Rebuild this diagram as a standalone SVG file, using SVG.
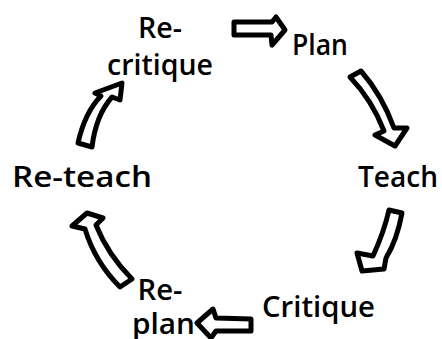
<svg xmlns="http://www.w3.org/2000/svg" width="442" height="339" viewBox="0 0 442 339">
<style>
text{font-family:"Open Sans","Liberation Sans",sans-serif;font-weight:600;font-size:28px;fill:#000}
.arr{fill:#fff;stroke:#000;stroke-width:5;stroke-linejoin:round}
</style>
<rect width="442" height="339" fill="#fff"/>
<g id="recritique"><text x="160" y="38" text-anchor="middle" textLength="44" lengthAdjust="spacingAndGlyphs">Re-</text><text x="160" y="75" text-anchor="middle" textLength="106" lengthAdjust="spacingAndGlyphs">critique</text></g>
<g id="plan"><text x="292" y="55" font-size="25" textLength="56" lengthAdjust="spacingAndGlyphs">Plan</text></g>
<g id="teach"><text x="358" y="187" textLength="80" lengthAdjust="spacingAndGlyphs">Teach</text></g>
<g id="critique"><text x="262" y="317" textLength="113" lengthAdjust="spacingAndGlyphs">Critique</text></g>
<g id="replan"><text x="160" y="300" text-anchor="middle" textLength="45" lengthAdjust="spacingAndGlyphs">Re-</text><text x="132" y="334" textLength="63" lengthAdjust="spacingAndGlyphs">plan</text></g>
<g id="reteach"><text x="12" y="187" textLength="140" lengthAdjust="spacingAndGlyphs">Re-teach</text></g>
<g id="connectors">
<path class="arr" d="M234,22 L272,22 L276,17 L285,30 L272,45 L271,35 L234,35 Z"/>
<path class="arr" d="M350,77 L361,71 Q382,95 394,128 L407,128 L395,146 L375,135 L384,131 Q372,100 350,77 Z"/>
<path class="arr" d="M389,210 L402,213 Q397,240 386,258 L384,269 L362,271 L357,253 L373,256 Q384,232 389,210 Z"/>
<path class="arr" d="M251,319 L216,318 L213,309 L197,323 L211,338 L216,331 L251,331 Z"/>
<path class="arr" d="M87,213 L103,218 L96,225 Q108,255 132,279 L120,287 Q95,262 85,229 L72,226 Z"/>
<path class="arr" d="M122,83 L120,100 L112,97 Q96,115 92,147 L78,143 Q85,112 101,96 L95,93 Z"/>
</g>
</svg>
